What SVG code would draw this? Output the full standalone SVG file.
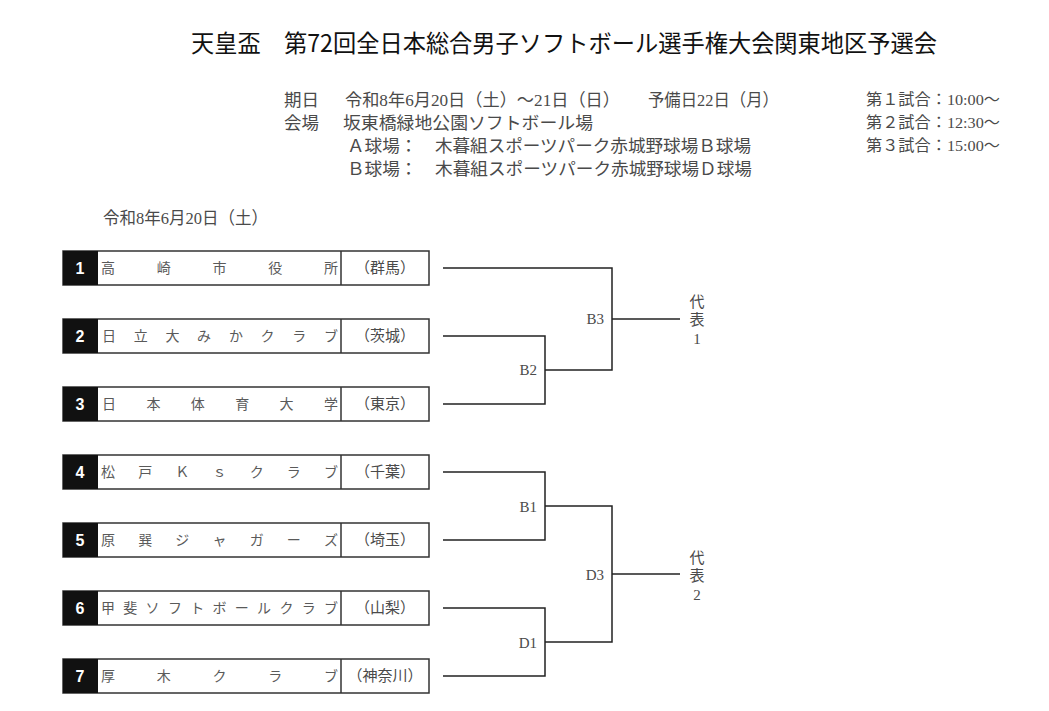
<svg xmlns="http://www.w3.org/2000/svg" width="1049" height="711" viewBox="0 0 1049 711">
<style>
.title{font-family:"Noto Sans CJK JP","Noto Sans CJK SC",sans-serif;font-size:24px;fill:#111}
.m{font-family:"Liberation Serif","Noto Sans CJK JP",serif;fill:#4a4a4a}
.hd{font-size:17.5px}
.rt{font-size:15.5px}
.nm{font-size:14px;fill:#5a5a5a}
.pf{font-size:15px;fill:#4a4a4a;text-anchor:middle}
.num{font-family:"Liberation Sans",Arial,sans-serif;font-weight:bold;font-size:16px;fill:#fff;text-anchor:middle}
.lbl{font-size:15px;fill:#4a4a4a;text-anchor:end}
.rep{font-size:15px;fill:#4a4a4a;text-anchor:middle}
.box{fill:#fff;stroke:#333;stroke-width:1.5}
.cell{fill:#111}
.div{stroke:#333;stroke-width:1.5}
.con{fill:none;stroke:#222;stroke-width:1.5}
</style>
<rect width="1049" height="711" fill="#fff"/>
<g id="header">
<text class="title" x="191" y="52" textLength="746" lengthAdjust="spacingAndGlyphs">天皇盃　第72回全日本総合男子ソフトボール選手権大会関東地区予選会</text>
<text class="m hd" x="284" y="106">期日</text>
<text class="m hd" x="345" y="106" textLength="275" lengthAdjust="spacingAndGlyphs">令和8年6月20日（土）～21日（日）</text>
<text class="m hd" x="648" y="106" textLength="131" lengthAdjust="spacingAndGlyphs">予備日22日（月）</text>
<text class="m hd" x="284" y="129">会場</text>
<text class="m hd" x="343" y="129" textLength="250" lengthAdjust="spacingAndGlyphs">坂東橋緑地公園ソフトボール場</text>
<text class="m hd" x="347" y="152" textLength="404" lengthAdjust="spacingAndGlyphs">Ａ球場：　木暮組スポーツパーク赤城野球場Ｂ球場</text>
<text class="m hd" x="347" y="175" textLength="405" lengthAdjust="spacingAndGlyphs">Ｂ球場：　木暮組スポーツパーク赤城野球場Ｄ球場</text>
<text class="m rt" x="866" y="105" textLength="134" lengthAdjust="spacingAndGlyphs">第１試合：10:00～</text>
<text class="m rt" x="866" y="128" textLength="134" lengthAdjust="spacingAndGlyphs">第２試合：12:30～</text>
<text class="m rt" x="866" y="151" textLength="134" lengthAdjust="spacingAndGlyphs">第３試合：15:00～</text>
<text class="m hd" x="103" y="224" textLength="165" lengthAdjust="spacingAndGlyphs">令和8年6月20日（土）</text>
</g>
<g id="team1">
<rect class="box" x="63" y="251" width="366" height="34"/><rect class="cell" x="63" y="251" width="35" height="34"/><line class="div" x1="341" y1="251" x2="341" y2="285"/>
<text class="num" x="80" y="274">1</text>
<text class="m nm" x="101 156.75 212.5 268.25 324" y="273">高崎市役所</text>
<text class="m pf" x="385" y="273">（群馬）</text>
</g>
<g id="team2">
<rect class="box" x="63" y="319" width="366" height="34"/><rect class="cell" x="63" y="319" width="35" height="34"/><line class="div" x1="341" y1="319" x2="341" y2="353"/>
<text class="num" x="80" y="342">2</text>
<text class="m nm" x="102 133.7 165.4 197.1 228.9 260.6 292.3 324" y="341">日立大みかクラブ</text>
<text class="m pf" x="385" y="341">（茨城）</text>
</g>
<g id="team3">
<rect class="box" x="63" y="387" width="366" height="34"/><rect class="cell" x="63" y="387" width="35" height="34"/><line class="div" x1="341" y1="387" x2="341" y2="421"/>
<text class="num" x="80" y="410">3</text>
<text class="m nm" x="102 146.4 190.8 235.2 279.6 324" y="409">日本体育大学</text>
<text class="m pf" x="385" y="409">（東京）</text>
</g>
<g id="team4">
<rect class="box" x="63" y="455" width="366" height="34"/><rect class="cell" x="63" y="455" width="35" height="34"/><line class="div" x1="341" y1="455" x2="341" y2="489"/>
<text class="num" x="80" y="478">4</text>
<text class="m nm" x="101 138.2 175.3 212.5 249.7 286.8 324" y="477">松戸Ｋｓクラブ</text>
<text class="m pf" x="385" y="477">（千葉）</text>
</g>
<g id="team5">
<rect class="box" x="63" y="523" width="366" height="34"/><rect class="cell" x="63" y="523" width="35" height="34"/><line class="div" x1="341" y1="523" x2="341" y2="557"/>
<text class="num" x="80" y="546">5</text>
<text class="m nm" x="101 138.2 175.3 212.5 249.7 286.8 324" y="545">原巽ジャガーズ</text>
<text class="m pf" x="385" y="545">（埼玉）</text>
</g>
<g id="team6">
<rect class="box" x="63" y="591" width="366" height="34"/><rect class="cell" x="63" y="591" width="35" height="34"/><line class="div" x1="341" y1="591" x2="341" y2="625"/>
<text class="num" x="80" y="614">6</text>
<text class="m nm" x="101 123.3 145.6 167.9 190.2 212.5 234.8 257.1 279.4 301.7 324" y="613">甲斐ソフトボールクラブ</text>
<text class="m pf" x="385" y="613">（山梨）</text>
</g>
<g id="team7">
<rect class="box" x="63" y="659" width="366" height="34"/><rect class="cell" x="63" y="659" width="35" height="34"/><line class="div" x1="341" y1="659" x2="341" y2="693"/>
<text class="num" x="80" y="682">7</text>
<text class="m nm" x="101 156.75 212.5 268.25 324" y="681">厚木クラブ</text>
<text class="m pf" x="385" y="681">（神奈川）</text>
</g>
<g id="connectors">
<polyline class="con" points="443,268 612,268 612,370 545,370"/>
<polyline class="con" points="443,336 545,336 545,404 443,404"/>
<line class="con" x1="612" y1="319" x2="680" y2="319"/>
<polyline class="con" points="443,472 545,472 545,540 443,540"/>
<polyline class="con" points="443,608 545,608 545,676 443,676"/>
<polyline class="con" points="545,506 612,506 612,642 545,642"/>
<line class="con" x1="612" y1="574" x2="680" y2="574"/>
</g>
<g id="labels">
<text class="m lbl" x="604" y="324">B3</text>
<text class="m lbl" x="537" y="375">B2</text>
<text class="m lbl" x="537" y="512">B1</text>
<text class="m lbl" x="604" y="580">D3</text>
<text class="m lbl" x="537" y="648">D1</text>
</g>
<g id="rep1">
<text class="m rep" x="697" y="307">代</text>
<text class="m rep" x="697" y="325">表</text>
<text class="m rep" x="697" y="344">1</text>
</g>
<g id="rep2">
<text class="m rep" x="697" y="563">代</text>
<text class="m rep" x="697" y="581">表</text>
<text class="m rep" x="697" y="600">2</text>
</g>
</svg>
